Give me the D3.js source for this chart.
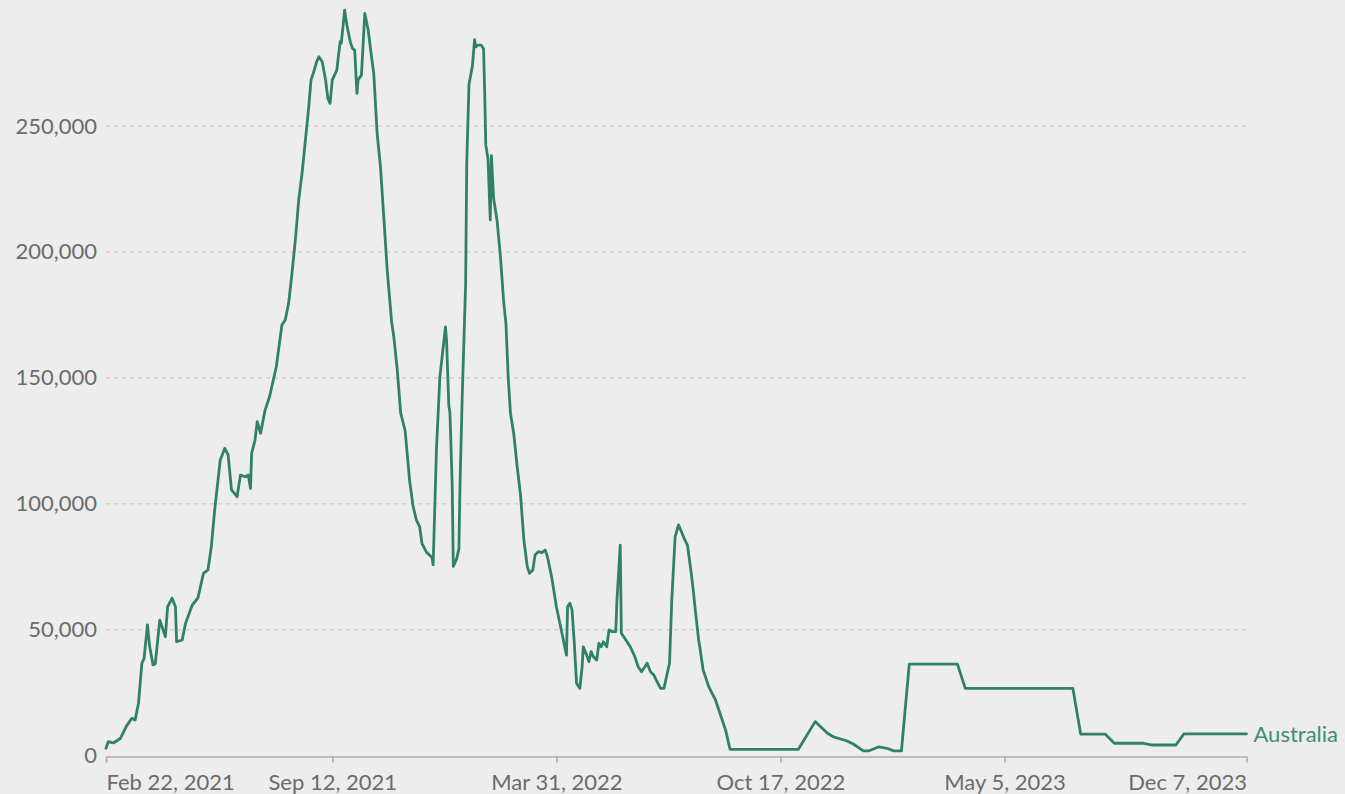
<!DOCTYPE html>
<html>
<head>
<meta charset="utf-8">
<script src="https://cdn.jsdelivr.net/npm/d3@7"></script>
<style>
  html, body { margin: 0; padding: 0; background: #ededed; }
  svg { display: block; font-family: Lato, "Open Sans", sans-serif; }
</style>
</head>
<body>
<svg id="chart" width="1345" height="794"></svg>
<script>
// Australia, line series
var dates = [
  "2021-02-22","2021-02-24","2021-03-01","2021-03-07","2021-03-12","2021-03-17","2021-03-20","2021-03-23",
  "2021-03-26","2021-03-28","2021-03-31","2021-04-02","2021-04-05","2021-04-07","2021-04-11","2021-04-16",
  "2021-04-18","2021-04-22","2021-04-25","2021-04-26","2021-05-01","2021-05-04","2021-05-10","2021-05-15",
  "2021-05-20","2021-05-24","2021-05-27","2021-05-30","2021-06-04","2021-06-08","2021-06-11","2021-06-14",
  "2021-06-19","2021-06-22","2021-06-26","2021-06-29","2021-07-01","2021-07-02","2021-07-05","2021-07-07",
  "2021-07-10","2021-07-14","2021-07-18","2021-07-24","2021-07-29","2021-08-01","2021-08-04","2021-08-07",
  "2021-08-10","2021-08-13","2021-08-16","2021-08-19","2021-08-22","2021-08-24","2021-08-26","2021-08-29",
  "2021-08-31","2021-09-03","2021-09-06","2021-09-08","2021-09-10","2021-09-12","2021-09-14","2021-09-16",
  "2021-09-19","2021-09-20","2021-09-23","2021-09-25","2021-09-28","2021-09-30","2021-10-02","2021-10-04",
  "2021-10-05","2021-10-08","2021-10-11","2021-10-14","2021-10-17","2021-10-19","2021-10-22","2021-10-25",
  "2021-10-28","2021-10-31","2021-11-04","2021-11-06","2021-11-09","2021-11-12","2021-11-16","2021-11-20",
  "2021-11-23","2021-11-26","2021-11-29","2021-12-01","2021-12-05","2021-12-10","2021-12-11","2021-12-14",
  "2021-12-17","2021-12-22","2021-12-23","2021-12-25","2021-12-26","2021-12-28","2021-12-29","2022-01-01",
  "2022-01-03","2022-01-04","2022-01-06","2022-01-09","2022-01-10","2022-01-12","2022-01-15","2022-01-17",
  "2022-01-18","2022-01-20","2022-01-23","2022-01-25","2022-01-26","2022-01-27","2022-01-29","2022-01-31",
  "2022-02-01","2022-02-03","2022-02-06","2022-02-09","2022-02-12","2022-02-14","2022-02-16","2022-02-18",
  "2022-02-21","2022-02-24","2022-02-27","2022-03-02","2022-03-05","2022-03-07","2022-03-10","2022-03-12",
  "2022-03-15","2022-03-18","2022-03-21","2022-03-23","2022-03-27","2022-03-31","2022-04-05","2022-04-09",
  "2022-04-10","2022-04-12","2022-04-14","2022-04-16","2022-04-18","2022-04-21","2022-04-23","2022-04-24",
  "2022-04-27","2022-04-29","2022-05-01","2022-05-03","2022-05-06","2022-05-08","2022-05-10","2022-05-12",
  "2022-05-15","2022-05-17","2022-05-20","2022-05-23","2022-05-24","2022-05-27","2022-05-28","2022-05-31",
  "2022-06-05","2022-06-09","2022-06-12","2022-06-15","2022-06-18","2022-06-20","2022-06-23","2022-06-26",
  "2022-06-29","2022-07-02","2022-07-05","2022-07-08","2022-07-10","2022-07-12","2022-07-15","2022-07-18",
  "2022-07-20","2022-07-23","2022-07-26","2022-07-29","2022-07-31","2022-08-02","2022-08-05","2022-08-06",
  "2022-08-09","2022-08-14","2022-08-20","2022-08-24","2022-08-29","2022-09-02","2022-11-02","2022-11-17",
  "2022-11-28","2022-12-04","2022-12-15","2022-12-21","2022-12-30","2023-01-04","2023-01-13","2023-01-20",
  "2023-01-26","2023-02-02","2023-02-09","2023-03-24","2023-03-31","2023-07-05","2023-07-12","2023-08-03",
  "2023-08-11","2023-09-06","2023-09-14","2023-10-05","2023-10-12","2023-12-07"
];
var values = [
  2900, 5500, 5100, 6900, 11500, 14800, 14100, 20800,
  36600, 38600, 51900, 43200, 36000, 36500, 53800, 47200,
  59100, 62500, 59100, 45200, 45900, 52500, 59800, 62500,
  72400, 73700, 82900, 97500, 117400, 122000, 119400, 105500,
  102800, 111400, 110700, 111400, 106100, 120000, 125300, 132600,
  128000, 137200, 142500, 154400, 171000, 173000, 179600, 191500,
  204700, 220600, 231200, 244400, 257700, 268300, 270900, 275500,
  277500, 275500, 268300, 261000, 259000, 268300, 270200, 272200,
  283500, 282800, 296000, 290100, 283500, 280800, 280100, 263000,
  268300, 270200, 294700, 288100, 277500, 270900, 247100, 233800,
  213400, 192800, 172000, 166000, 153100, 136100, 129000, 109200,
  99200, 93600, 90800, 84300, 80800, 78700, 75800, 121900,
  150300, 170200, 164600, 138900, 136100, 107700, 75100, 78100,
  82200, 107700, 143200, 187100, 235300, 266600, 273700, 284300,
  281400, 282100, 282100, 280700, 263700, 242500, 236800, 212700,
  238200, 221200, 212700, 198500, 180100, 171500, 150300, 136100,
  127600, 114800, 103500, 85600, 75100, 72400, 73700, 79700,
  81000, 80600, 81600, 79000, 70400, 59100, 48600, 39900,
  59100, 60500, 57800, 44600, 28700, 26700, 35300, 43200,
  39900, 37300, 41300, 39300, 38000, 44600, 43200, 45200,
  43200, 49900, 49200, 49200, 61100, 83600, 48600, 46600,
  43200, 39300, 35300, 33300, 35300, 36700, 33300, 32000,
  29300, 26700, 26700, 32700, 36700, 61800, 86900, 91600,
  89600, 86300, 83600, 73700, 66400, 57800, 45900, 43200,
  34000, 27400, 22100, 16800, 10200, 2500, 2500, 13500,
  8900, 7300, 5900, 4600, 1900, 1900, 3500, 2900,
  1900, 1900, 36300, 36300, 26700, 26700, 8500, 8500,
  4900, 4900, 4200, 4200, 8600, 8600
];
var seriesName = "Australia";
var yTicks = [0, 50000, 100000, 150000, 200000, 250000];
var xTicks = ["2021-02-22", "2021-09-12", "2022-03-31", "2022-10-17", "2023-05-05", "2023-12-07"];

var parseDate = d3.utcParse("%Y-%m-%d");
var points = dates.map(function(d, i) {
    return { date: parseDate(d), value: values[i] };
});

var svg = d3.select("#chart");
var left = 106, right = 1246.5, bottom = 755.6;

var x = d3.scaleUtc()
    .domain([parseDate(xTicks[0]), parseDate(xTicks[xTicks.length - 1])])
    .range([left, right]);
var y = d3.scaleLinear()
    .domain([0, 250000])
    .range([bottom, 126]);

svg.append("rect")
    .attr("width", 1345).attr("height", 794)
    .attr("fill", "#ededed");

// dashed gridlines
svg.append("g").selectAll("line")
    .data(yTicks.filter(function(d) { return d > 0; }))
    .join("line")
    .attr("x1", left).attr("x2", right)
    .attr("y1", function(d) { return y(d); })
    .attr("y2", function(d) { return y(d); })
    .attr("stroke", "#d2d2d2")
    .attr("stroke-width", 1.5)
    .attr("stroke-dasharray", "4,4");

// y axis labels
var yAxis = svg.append("g")
    .attr("transform", "translate(" + left + ",0)")
    .call(d3.axisLeft(y).tickValues(yTicks).tickSize(0).tickPadding(9).tickFormat(d3.format(",")));
yAxis.select(".domain").remove();
yAxis.selectAll("text")
    .attr("fill", "#6b6b6b")
    .style("font-size", "22px")
    .style("font-family", "Lato, sans-serif");

// x axis
var xAxis = svg.append("g")
    .attr("transform", "translate(0," + (bottom + 1) + ")")
    .call(d3.axisBottom(x)
        .tickValues(xTicks.map(parseDate))
        .tickSize(6)
        .tickSizeOuter(0)
        .tickPadding(12)
        .tickFormat(d3.utcFormat("%b %-d, %Y")));
xAxis.select(".domain")
    .attr("stroke", "#bdbdbd")
    .attr("stroke-width", 2);
xAxis.selectAll(".tick line")
    .attr("stroke", "#a8a8a8")
    .attr("stroke-width", 1.5);
xAxis.selectAll("text")
    .attr("fill", "#6b6b6b")
    .style("font-size", "22px")
    .style("font-family", "Lato, sans-serif")
    .attr("text-anchor", function(d, i) {
        if (i === 0) return "start";
        if (i === xTicks.length - 1) return "end";
        return "middle";
    });

// the series line
var line = d3.line()
    .x(function(d) { return x(d.date); })
    .y(function(d) { return y(d.value); });

svg.append("path")
    .datum(points)
    .attr("d", line)
    .attr("fill", "none")
    .attr("stroke", "#30806a")
    .attr("stroke-width", 2.8)
    .attr("stroke-linejoin", "round")
    .attr("stroke-linecap", "round");

// end label
var last = points[points.length - 1];
svg.append("text")
    .attr("x", x(last.date) + 7)
    .attr("y", y(last.value))
    .attr("dy", "0.36em")
    .attr("fill", "#3d8d73")
    .style("font-size", "22px")
    .text(seriesName);
</script>
</body>
</html>
